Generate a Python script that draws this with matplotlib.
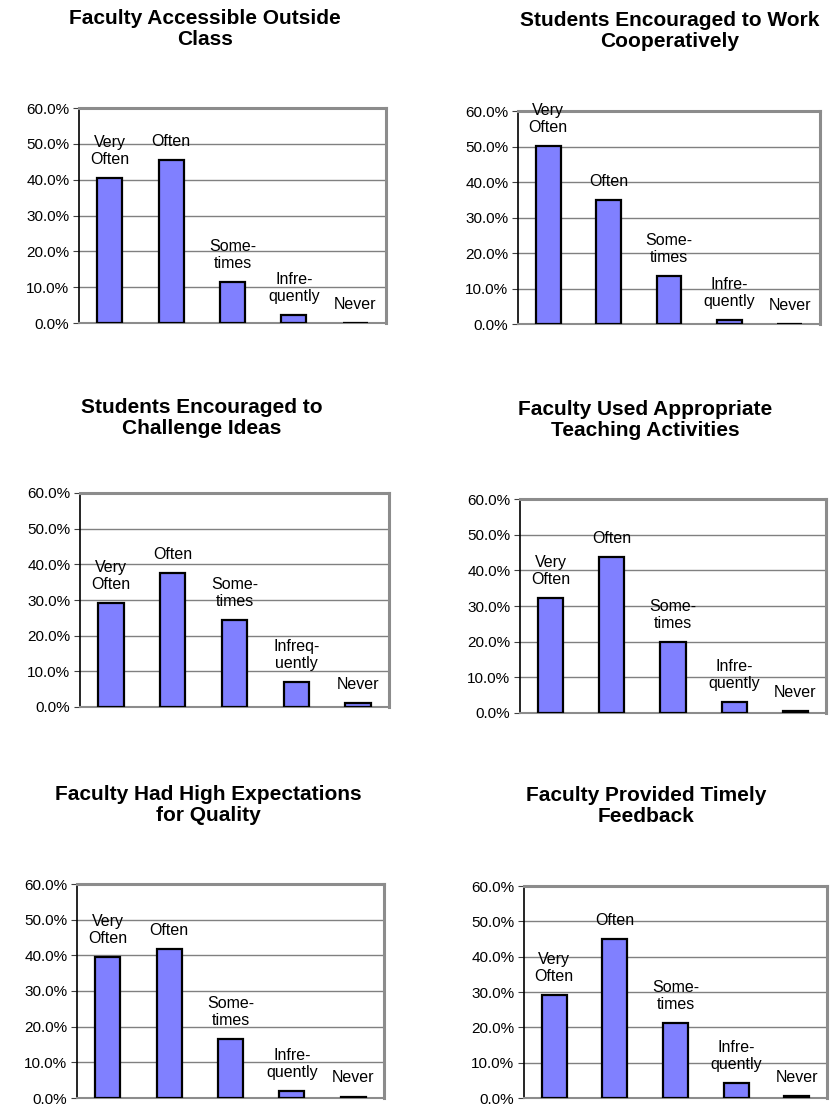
import matplotlib
matplotlib.use("Agg")
import matplotlib.pyplot as plt
from matplotlib.ticker import PercentFormatter

plt.rcParams['font.family'] = ['Liberation Sans', 'DejaVu Sans']

categories = ["Very\nOften", "Often", "Some-\ntimes", "Infre-\nquently", "Never"]
categories_alt = ["Very\nOften", "Often", "Some-\ntimes", "Infreq-\nuently", "Never"]

titles = [
    "Faculty Accessible Outside\nClass",
    "Students Encouraged to Work\nCooperatively",
    "Students Encouraged to\nChallenge Ideas",
    "Faculty Used Appropriate\nTeaching Activities",
    "Faculty Had High Expectations\nfor Quality",
    "Faculty Provided Timely\nFeedback",
]

accessible = [40.5, 45.5, 11.4, 2.2, 0.0]
cooperative = [50.1, 34.9, 13.5, 1.2, 0.0]
challenge = [29.2, 37.6, 24.4, 7.0, 1.2]
teaching = [32.2, 43.7, 19.9, 3.1, 0.6]
expectations = [39.5, 41.8, 16.5, 2.0, 0.4]
feedback = [29.2, 45.1, 21.3, 4.2, 0.6]

yticks = [0, 10, 20, 30, 40, 50, 60]

# pixel boxes for each panel: (left, right, top, bottom), title (x, y)
W, H = 836, 1105
boxes = [(79, 386, 108, 323), (518, 820, 111, 324),
         (80, 389, 493, 707), (520, 826, 499, 713),
         (77, 384, 884, 1098), (524, 827, 886, 1098)]
title_pos = [(205, 29), (670, 31), (202, 418), (645, 420), (208, 805), (646, 806)]

series = [accessible, cooperative, challenge, teaching, expectations, feedback]
labels = [categories, categories, categories_alt, categories, categories, categories]

fig = plt.figure(figsize=(W / 100, H / 100), dpi=100)

for vals, labs, title, box, tp in zip(series, labels, titles, boxes, title_pos):
    l, r, t, b = box
    ax = fig.add_axes([l / W, 1 - b / H, (r - l) / W, (b - t) / H])
    x = range(len(vals))
    ax.bar(x, vals, width=0.41, color="#8080FF", edgecolor="black", linewidth=1.6, zorder=3)
    for xi, v, lab in zip(x, vals, labs):
        ax.annotate(lab, (xi, v), xytext=(0, 8), textcoords="offset points",
                    ha="center", va="bottom", fontsize=11.5, linespacing=1.15, zorder=4)
    ax.set_xlim(-0.5, len(vals) - 0.5)
    ax.set_ylim(0, 60)
    ax.set_yticks(yticks)
    ax.yaxis.set_major_formatter(PercentFormatter(decimals=1))
    ax.tick_params(axis="y", labelsize=11, length=4, color="#404040", pad=3)
    ax.set_xticks([])
    ax.grid(axis="y", color="#808080", linewidth=1, zorder=1)
    ax.spines["left"].set_color("black")
    ax.spines["left"].set_linewidth(1.2)
    for s in ["top", "right"]:
        ax.spines[s].set_color("#8c8c8c")
        ax.spines[s].set_linewidth(2.2)
    ax.spines["bottom"].set_color("#8c8c8c")
    ax.spines["bottom"].set_linewidth(1.5)
    fig.text(tp[0] / W, 1 - tp[1] / H, title, ha="center", va="center",
             fontsize=15, fontweight="bold", linespacing=1.15)

fig.savefig("out.png", dpi=100)
